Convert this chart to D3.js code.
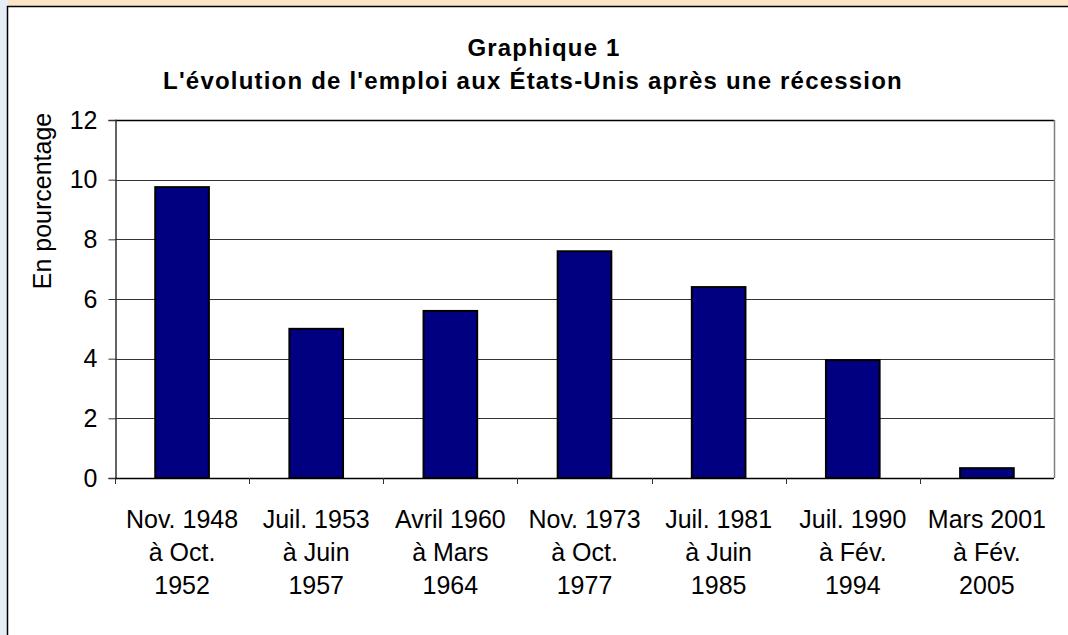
<!DOCTYPE html>
<html><head><meta charset="utf-8">
<script src="https://cdn.jsdelivr.net/npm/d3@7"></script>
<style>
html,body{margin:0;padding:0;background:#e6edf5;overflow:hidden;}
svg{display:block;font-family:"Liberation Sans",Arial,sans-serif;}
</style></head>
<body><svg id="c" width="1068" height="635"></svg>
<script>
const categories = [
  ["Nov. 1948","à Oct.","1952"],
  ["Juil. 1953","à Juin","1957"],
  ["Avril 1960","à Mars","1964"],
  ["Nov. 1973","à Oct.","1977"],
  ["Juil. 1981","à Juin","1985"],
  ["Juil. 1990","à Fév.","1994"],
  ["Mars 2001","à Fév.","2005"]
];
const values = [9.75, 5.0, 5.6, 7.6, 6.4, 3.95, 0.33];
const yTicks = [0, 2, 4, 6, 8, 10, 12];
const titleLines = ["Graphique 1", "L'évolution de l'emploi aux États-Unis après une récession"];
const yLabel = "En pourcentage";

const svg = d3.select("#c");
svg.append("rect").attr("x",0).attr("y",0).attr("width",1068).attr("height",635).attr("fill","#e6edf5");
svg.append("rect").attr("x",8).attr("y",0).attr("width",1060).attr("height",6).attr("fill","#fce4c6");
svg.append("rect").attr("x",7.5).attr("y",6.5).attr("width",1080).attr("height",660)
  .attr("fill","#ffffff").attr("stroke","#000").attr("stroke-width",1.5);

const L=115, R=1054, T=120, B=478;
const x = d3.scaleBand().domain(d3.range(categories.length)).range([L,R]).paddingInner(0.6).paddingOuter(0.3);
const xc = d3.scaleBand().domain(d3.range(categories.length)).range([L,R]);
const y = d3.scaleLinear().domain([0,12]).range([B,T]);

svg.append("g").selectAll("line").data(yTicks.filter(d=>d>0)).join("line")
  .attr("x1",L).attr("x2",R).attr("y1",d=>Math.round(y(d))+0.5).attr("y2",d=>Math.round(y(d))+0.5)
  .attr("stroke",d=>d===12?"#000":"#333").attr("stroke-width",d=>d===12?1.5:1);
svg.append("line").attr("x1",R+0.5).attr("x2",R+0.5).attr("y1",T).attr("y2",B).attr("stroke","#808080").attr("stroke-width",1.5);

svg.append("g").selectAll("rect").data(values).join("rect")
  .attr("x",(d,i)=>x(i)).attr("width",x.bandwidth())
  .attr("y",d=>y(d)).attr("height",d=>B-y(d))
  .attr("fill","#000080").attr("stroke","#000").attr("stroke-width",2);

const yAxis = d3.axisLeft(y).tickValues(yTicks).tickSize(7).tickPadding(11);
const gy = svg.append("g").attr("transform",`translate(${L+0.5},0)`).call(yAxis);
gy.select(".domain").attr("stroke","#333").attr("stroke-width",1.5);
gy.selectAll(".tick line").attr("stroke","#333");
gy.selectAll(".tick text").attr("font-size",25).attr("fill","#000").attr("font-family","Liberation Sans, Arial, sans-serif");

svg.append("line").attr("x1",L).attr("x2",R).attr("y1",B+0.5).attr("y2",B+0.5).attr("stroke","#000").attr("stroke-width",1.5);
const bounds = d3.range(categories.length).map(i=>xc(i));
svg.append("g").selectAll("line").data(bounds).join("line")
  .attr("x1",d=>Math.round(d)+0.5).attr("x2",d=>Math.round(d)+0.5).attr("y1",B).attr("y2",B+6)
  .attr("stroke","#333");

const xl = svg.append("g").selectAll("text").data(categories).join("text")
  .attr("text-anchor","middle").attr("font-size",25).attr("fill","#000")
  .attr("x",(d,i)=>xc(i)+xc.bandwidth()/2);
xl.each(function(d){
  const t=d3.select(this);
  d.forEach((s,k)=>t.append("tspan").attr("x",t.attr("x")).attr("y",528+k*33).text(s));
});

svg.append("g").selectAll("text").data(titleLines).join("text")
  .attr("x",(d,i)=>i===0?544:533).attr("y",(d,i)=>56+i*33).attr("text-anchor","middle")
  .attr("font-size",24).attr("font-weight","bold").attr("letter-spacing",1.2).attr("fill","#000").text(d=>d);

svg.append("text").attr("transform","translate(51,201) rotate(-90)").attr("text-anchor","middle")
  .attr("font-size",25).attr("fill","#000").text(yLabel);
</script></body></html>
